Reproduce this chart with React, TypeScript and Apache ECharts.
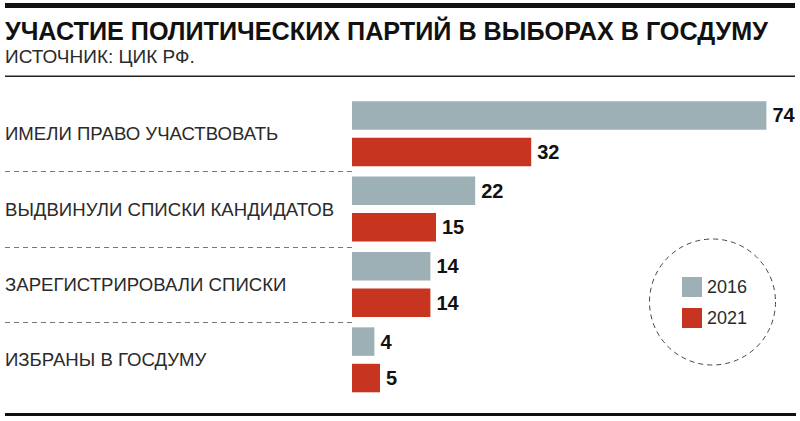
import React, { useEffect, useRef } from "react";
import * as echarts from "echarts";

const titleText = "УЧАСТИЕ ПОЛИТИЧЕСКИХ ПАРТИЙ В ВЫБОРАХ В ГОСДУМУ";
const sourceText = "ИСТОЧНИК: ЦИК РФ.";
const categories = [
  "ИМЕЛИ ПРАВО УЧАСТВОВАТЬ",
  "ВЫДВИНУЛИ СПИСКИ КАНДИДАТОВ",
  "ЗАРЕГИСТРИРОВАЛИ СПИСКИ",
  "ИЗБРАНЫ В ГОСДУМУ",
];
const seriesNames = ["2016", "2021"];
const values2016 = [74, 22, 14, 4];
const values2021 = [32, 15, 14, 5];

const GRAY = "#9cb0b5";
const RED = "#c73520";
const FONT = "'Liberation Sans', Arial, sans-serif";

export default function App() {
  const ref = useRef<HTMLDivElement>(null);
  useEffect(() => {
    if (!ref.current) return;
    const chart = echarts.init(ref.current, null, { renderer: "svg" });
    const labelCfg = {
      show: true,
      position: "right",
      distance: 6,
      fontSize: 20,
      fontWeight: "bold",
      color: "#111",
      fontFamily: FONT,
    };
    const baseGraphic: any[] = [
      { type: "rect", shape: { x: 5, y: 3, width: 790, height: 5 }, style: { fill: "#111" } },
      {
        type: "text",
        x: 5,
        y: 18,
        style: { text: titleText, font: `bold 25.2px ${FONT}`, fill: "#111" },
      },
      {
        type: "text",
        x: 5,
        y: 47,
        style: { text: sourceText, font: `19px ${FONT}`, fill: "#2a2a2a" },
      },
      { type: "rect", shape: { x: 5, y: 75.5, width: 790, height: 1.5 }, style: { fill: "#222" } },
      { type: "rect", shape: { x: 5, y: 413, width: 791, height: 3 }, style: { fill: "#111" } },
      {
        type: "circle",
        shape: { cx: 712.5, cy: 302, r: 63 },
        style: { fill: "none", stroke: "#444", lineWidth: 1, lineDash: [5, 4] },
      },
    ];
    const option: any = {
      animation: false,
      backgroundColor: "#fff",
      grid: { left: 352, right: 0, top: 96, height: 301.5, containLabel: false, outerBoundsMode: "none" },
      xAxis: { type: "value", min: 0, max: 80, show: false },
      yAxis: {
        type: "category",
        inverse: true,
        data: categories,
        axisLine: { show: false },
        axisTick: { show: false },
        splitLine: { show: false },
        axisLabel: {
          align: "left",
          margin: 347,
          fontSize: 18.6,
          color: "#2a2a2a",
          fontFamily: FONT,
        },
      },
      legend: {
        data: seriesNames,
        orient: "vertical",
        left: 677,
        top: 272,
        itemWidth: 20,
        itemHeight: 20,
        itemGap: 11,
        icon: "rect",
        textStyle: { fontSize: 18, color: "#2a2a2a", fontFamily: FONT },
      },
      series: [
        {
          name: seriesNames[0],
          type: "bar",
          data: values2016,
          barWidth: 28.5,
          barGap: "28%",
          itemStyle: { color: GRAY },
          label: labelCfg,
        },
        {
          name: seriesNames[1],
          type: "bar",
          data: values2021,
          barWidth: 28.5,
          barGap: "28%",
          itemStyle: { color: RED },
          label: labelCfg,
        },
      ],
      graphic: baseGraphic,
    };
    chart.setOption(option);
    // dashed separators between category bands, from the axis scale
    const centers = categories.map(
      (c) => chart.convertToPixel({ yAxisIndex: 0 }, c) as number
    );
    const seps: any[] = [];
    for (let i = 0; i < centers.length - 1; i++) {
      const y = Math.round((centers[i] + centers[i + 1]) / 2) + 0.5;
      seps.push({
        type: "line",
        shape: { x1: 5, y1: y, x2: 352, y2: y },
        style: { stroke: "#777", lineWidth: 1, lineDash: [5, 4] },
      });
    }
    chart.setOption({ graphic: [...baseGraphic, ...seps] });
    return () => chart.dispose();
  }, []);
  return (
    <div
      ref={ref}
      style={{ position: "fixed", left: 0, top: 0, width: 800, height: 421, background: "#fff" }}
    />
  );
}
